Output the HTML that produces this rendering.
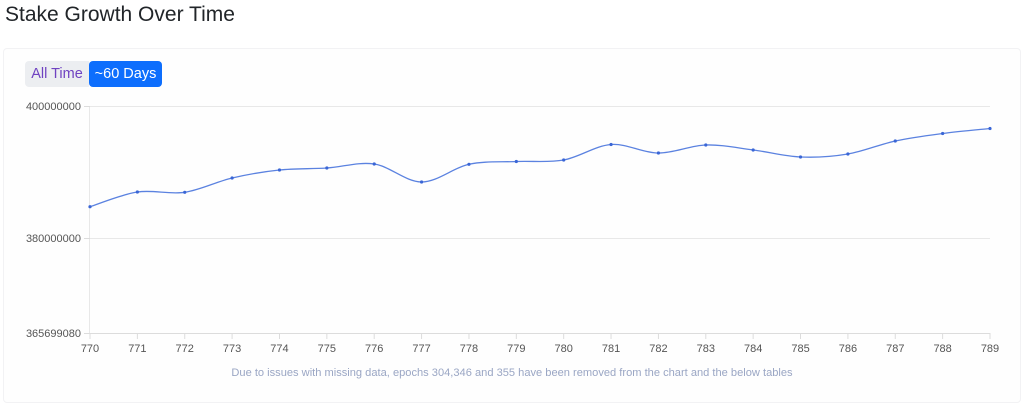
<!DOCTYPE html>
<html><head><meta charset="utf-8"><style>
html,body{margin:0;padding:0;width:1024px;height:404px;background:#fff;overflow:hidden;font-family:"Liberation Sans",sans-serif}
h1{position:absolute;left:5px;top:3px;margin:0;font-size:21px;font-weight:400;color:#212529}
.card{position:absolute;left:3px;top:48px;width:1016px;height:353px;background:#fefefe;border:1px solid #f2f2f4;border-radius:4px}
.btn{position:absolute;top:61px;height:26px;line-height:26px;font-size:14.5px;border-radius:4px;white-space:nowrap;text-align:center;box-sizing:border-box}
.b1{left:25px;width:64px;background:#eceef1;color:#6f42c1;border-radius:4px 0 0 4px}
.b2{left:89px;width:73px;background:#0d6efd;color:#fff}
svg{position:absolute;left:0;top:0}
.note{position:absolute;left:0;width:1024px;text-align:center;top:367px;font-size:11.1px;color:#9aa6c4;white-space:nowrap}
</style></head><body>
<h1>Stake Growth Over Time</h1>
<div class="card"></div>
<div class="btn b1">All Time</div>
<div class="btn b2">~60 Days</div>
<svg width="1024" height="404" id="s" font-family="Liberation Sans, sans-serif" font-size="11" fill="#555">
<line x1="90" y1="106.5" x2="990" y2="106.5" stroke="#e8e8e8"/>
<line x1="90" y1="238.5" x2="990" y2="238.5" stroke="#e8e8e8"/>
<line x1="89.5" y1="106" x2="89.5" y2="333" stroke="#e8e8e8"/>
<line x1="84" y1="333.5" x2="990" y2="333.5" stroke="#dcdcdc"/>
<line x1="84" y1="106.5" x2="90" y2="106.5" stroke="#dcdcdc"/>
<line x1="84" y1="238.5" x2="90" y2="238.5" stroke="#dcdcdc"/>
<text x="81" y="110" text-anchor="end">400000000</text>
<text x="81" y="242" text-anchor="end">380000000</text>
<text x="81" y="337" text-anchor="end">365699080</text>
<g id="ticks"></g>
<path id="ln" fill="none" stroke="#5b82e0" stroke-width="1.3"/>
<g id="pts" fill="#3a66d6"></g>
</svg>
<div class="note">Due to issues with missing data, epochs 304,346 and 355 have been removed from the chart and the below tables</div>
<script>
var ys=[206.7,192,192.3,178,170,168,164,182,164.3,161.5,160,144.5,153,145,150,157,154,141,133.5,128.5];
var ns="http://www.w3.org/2000/svg",st=900/19,P=[];
var tk=document.getElementById('ticks'),pt=document.getElementById('pts');
for(var i=0;i<20;i++){var x=90+i*st;P.push([x,ys[i]]);
var l=document.createElementNS(ns,'line');l.setAttribute('x1',x);l.setAttribute('x2',x);l.setAttribute('y1',333);l.setAttribute('y2',339);l.setAttribute('stroke','#dcdcdc');tk.appendChild(l);
var t=document.createElementNS(ns,'text');t.setAttribute('x',x);t.setAttribute('y',352);t.setAttribute('text-anchor','middle');t.textContent=770+i;tk.appendChild(t);
var c=document.createElementNS(ns,'circle');c.setAttribute('cx',x);c.setAttribute('cy',ys[i]);c.setAttribute('r',1.6);pt.appendChild(c);}
var d='M'+P[0][0]+','+P[0][1];
for(var i=0;i<19;i++){var p0=P[Math.max(i-1,0)],p1=P[i],p2=P[i+1],p3=P[Math.min(i+2,19)];
var c1x=p1[0]+(p2[0]-p0[0])/6,c1y=p1[1]+(p2[1]-p0[1])/6,c2x=p2[0]-(p3[0]-p1[0])/6,c2y=p2[1]-(p3[1]-p1[1])/6;
d+=' C'+c1x+','+c1y+' '+c2x+','+c2y+' '+p2[0]+','+p2[1];}
document.getElementById('ln').setAttribute('d',d);
</script>
</body></html>
